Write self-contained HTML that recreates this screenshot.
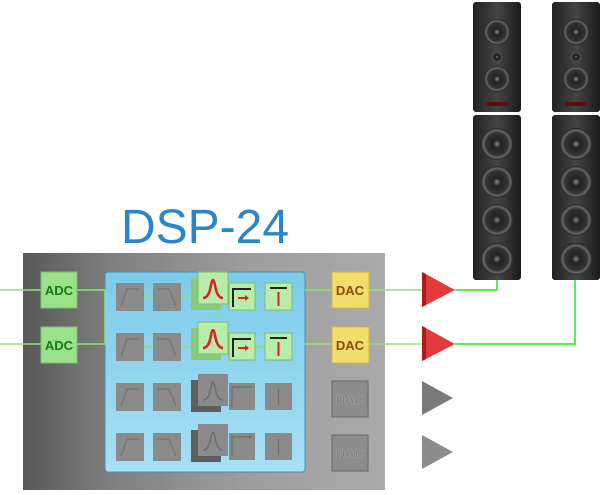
<!DOCTYPE html>
<html><head><style>
body{margin:0;width:600px;height:490px;background:#fff;overflow:hidden}
</style></head><body>
<svg width="600" height="490" xmlns="http://www.w3.org/2000/svg" font-family="Liberation Sans, sans-serif">
<defs>
<linearGradient id="metal" x1="0" x2="1" y1="0" y2="0">
<stop offset="0" stop-color="#585858"/><stop offset="0.25" stop-color="#808080"/><stop offset="0.6" stop-color="#9c9c9c"/><stop offset="1" stop-color="#aaaaaa"/>
</linearGradient>
<linearGradient id="blue" x1="0" x2="0" y1="0" y2="1">
<stop offset="0" stop-color="#7ccbea"/><stop offset="1" stop-color="#a6e0f4"/>
</linearGradient>
<linearGradient id="spk" x1="0" x2="1">
<stop offset="0" stop-color="#222"/><stop offset="0.5" stop-color="#444"/><stop offset="1" stop-color="#1a1a1a"/>
</linearGradient>
<radialGradient id="drv"><stop offset="0" stop-color="#888"/><stop offset="0.25" stop-color="#222"/><stop offset="0.7" stop-color="#333"/><stop offset="0.85" stop-color="#666"/><stop offset="1" stop-color="#222"/></radialGradient>
<g id="speaker">
<rect x="0" y="0" width="48" height="110" rx="3" fill="url(#spk)"/>
<rect x="0" y="113" width="48" height="165" rx="3" fill="url(#spk)"/>
<circle cx="24" cy="30" r="13" fill="url(#drv)"/>
<circle cx="24" cy="55" r="6" fill="url(#drv)"/>
<circle cx="24" cy="77" r="13" fill="url(#drv)"/>
<rect x="13" y="100" width="22" height="4" fill="#5a1010"/>
<circle cx="24" cy="142" r="16" fill="url(#drv)"/>
<circle cx="24" cy="180" r="16" fill="url(#drv)"/>
<circle cx="24" cy="218" r="16" fill="url(#drv)"/>
<circle cx="24" cy="257" r="16" fill="url(#drv)"/>
</g>
<g id="bp"><rect width="28" height="28" fill="#8a8a8a"/><path d="M5 23 L11 6 L23 6" stroke="#777" fill="none" stroke-width="1.5"/></g>
<g id="hp"><rect width="28" height="28" fill="#8a8a8a"/><path d="M4 6 L16 6 L23 23" stroke="#777" fill="none" stroke-width="1.5"/></g>
</defs>
<text x="205" y="243" text-anchor="middle" font-size="48" fill="#2a86c8">DSP-24</text>
<rect x="23" y="253" width="362" height="237" fill="url(#metal)"/>
<rect x="105" y="272" width="200" height="200" rx="3" fill="url(#blue)" stroke="#4a90b0"/>
<g stroke="#8fe07a" stroke-width="1.5">
<line x1="0" y1="290" x2="105" y2="290"/><line x1="0" y1="344" x2="105" y2="344"/>
<line x1="105" y1="290" x2="105" y2="344"/>
<line x1="144" y1="297" x2="265" y2="297"/><line x1="144" y1="347" x2="265" y2="347"/>
<line x1="305" y1="290" x2="422" y2="290"/><line x1="305" y1="344" x2="422" y2="344"/>
</g>
<g stroke="#2de02d" stroke-width="1.5" fill="none">
<polyline points="455,290 497,290 497,278"/>
<polyline points="455,344 575,344 575,278"/>
</g>
<g font-weight="bold" font-size="13" text-anchor="middle">
<rect x="41" y="272" width="36" height="36" fill="#9be08a" stroke="#7cc06a"/><text x="59" y="295" fill="#1a7a1a">ADC</text>
<rect x="41" y="327" width="36" height="36" fill="#9be08a" stroke="#7cc06a"/><text x="59" y="350" fill="#1a7a1a">ADC</text>
<rect x="332" y="272" width="37" height="36" fill="#f2dc6a" stroke="#d0b840"/><text x="350" y="295" fill="#8a4a10">DAC</text>
<rect x="332" y="327" width="37" height="36" fill="#f2dc6a" stroke="#d0b840"/><text x="350" y="350" fill="#8a4a10">DAC</text>
<rect x="332" y="381" width="36" height="36" fill="#8c8c8c" stroke="#6a6a6a"/><text x="350" y="404" fill="#7a7a7a" stroke="#aaa" stroke-width="0.5">DAC</text>
<rect x="332" y="435" width="36" height="36" fill="#8c8c8c" stroke="#6a6a6a"/><text x="350" y="458" fill="#7a7a7a" stroke="#aaa" stroke-width="0.5">DAC</text>
</g>
<use href="#bp" x="116" y="283"/><use href="#hp" x="153" y="283"/>
<use href="#bp" x="116" y="333"/><use href="#hp" x="153" y="333"/>
<use href="#bp" x="116" y="383"/><use href="#hp" x="153" y="383"/>
<use href="#bp" x="116" y="433"/><use href="#hp" x="153" y="433"/>
<g>
<rect x="191" y="278" width="30" height="32" fill="#8cc87a"/><rect x="198" y="272" width="30" height="32" fill="#b8ecaa" stroke="#7cc06a"/>
<path d="M203 298 Q209 298 211 285 Q213 275 215 285 Q217 298 223 298" stroke="#e02020" stroke-width="2.5" fill="none"/>
<rect x="191" y="328" width="30" height="32" fill="#8cc87a"/><rect x="198" y="322" width="30" height="32" fill="#b8ecaa" stroke="#7cc06a"/>
<path d="M203 348 Q209 348 211 335 Q213 325 215 335 Q217 348 223 348" stroke="#e02020" stroke-width="2.5" fill="none"/>
<rect x="191" y="380" width="30" height="32" fill="#5e5e5e"/><rect x="198" y="374" width="30" height="32" fill="#8a8a8a"/>
<path d="M203 400 Q209 400 211 387 Q213 377 215 387 Q217 400 223 400" stroke="#6e6e6e" stroke-width="1.5" fill="none"/>
<rect x="191" y="430" width="30" height="32" fill="#5e5e5e"/><rect x="198" y="424" width="30" height="32" fill="#8a8a8a"/>
<path d="M203 450 Q209 450 211 437 Q213 427 215 437 Q217 450 223 450" stroke="#6e6e6e" stroke-width="1.5" fill="none"/>
</g>
<g>
<rect x="229" y="283" width="26" height="27" fill="#b8ecaa" stroke="#7cc06a"/><path d="M233 307 V289 H251" stroke="#222" stroke-width="2" fill="none"/><path d="M238 298 H248" stroke="#e02020" stroke-width="2"/><path d="M245 295 L249 298 L245 301Z" fill="#e02020"/>
<rect x="229" y="333" width="26" height="27" fill="#b8ecaa" stroke="#7cc06a"/><path d="M233 357 V339 H251" stroke="#222" stroke-width="2" fill="none"/><path d="M238 348 H248" stroke="#e02020" stroke-width="2"/><path d="M245 345 L249 348 L245 351Z" fill="#e02020"/>
<rect x="265" y="283" width="27" height="27" fill="#b8ecaa" stroke="#7cc06a"/><path d="M270 288 H287" stroke="#222" stroke-width="2"/><path d="M278.5 292 V306" stroke="#e02020" stroke-width="2"/>
<rect x="265" y="333" width="27" height="27" fill="#b8ecaa" stroke="#7cc06a"/><path d="M270 338 H287" stroke="#222" stroke-width="2"/><path d="M278.5 342 V356" stroke="#e02020" stroke-width="2"/>
<rect x="229" y="383" width="26" height="27" fill="#8a8a8a"/><rect x="265" y="383" width="27" height="27" fill="#8a8a8a"/>
<rect x="229" y="433" width="26" height="27" fill="#8a8a8a"/><rect x="265" y="433" width="27" height="27" fill="#8a8a8a"/>
<path d="M232 407 V387 H252" stroke="#6e6e6e" stroke-width="1.2" fill="none"/><path d="M232 457 V437 H252" stroke="#6e6e6e" stroke-width="1.2" fill="none"/>
<path d="M278.5 389 V405" stroke="#6e6e6e" stroke-width="1.2"/><path d="M278.5 439 V455" stroke="#6e6e6e" stroke-width="1.2"/>
</g>
<polygon points="422,272 455,290 422,307" fill="#e23a3a"/><polygon points="422,272 426,274 426,305 422,307" fill="#a81e1e"/>
<polygon points="422,326 455,344 422,361" fill="#e23a3a"/><polygon points="422,326 426,328 426,359 422,361" fill="#a81e1e"/>
<polygon points="422,381 453,398 422,415" fill="#7a7a7a"/>
<polygon points="422,435 453,452 422,469" fill="#8c8c8c"/>
<use href="#speaker" x="473" y="2"/>
<use href="#speaker" x="552" y="2"/>
</svg>
</body></html>
